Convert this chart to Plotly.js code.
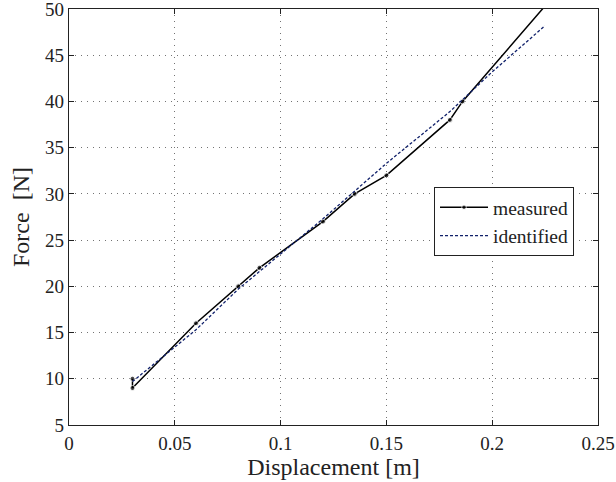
<!DOCTYPE html>
<html>
<head>
<meta charset="utf-8">
<script src="https://cdn.plot.ly/plotly-3.0.1.min.js"></script>
<style>html,body{margin:0;padding:0;background:#fff;}#chart{width:616px;height:482px;}</style>
</head>
<body>
<div id="chart"></div>
<script>
const measuredX = [0.03, 0.03, 0.06, 0.08, 0.09, 0.12, 0.135, 0.15, 0.18, 0.186, 0.2245];
const measuredY = [10, 9, 16, 20, 22, 27, 30, 32, 38, 40, 50.2];
const identifiedX = [0.03, 0.06, 0.08, 0.09, 0.12, 0.15, 0.18, 0.2, 0.225];
const identifiedY = [9.7, 15.3, 19.7, 21.6, 27.3, 33.3, 38.9, 43.2, 48.2];
const xTicks = [0, 0.05, 0.1, 0.15, 0.2, 0.25];
const xTickLabels = ['0', '0.05', '0.1', '0.15', '0.2', '0.25'];
const yTicks = [5, 10, 15, 20, 25, 30, 35, 40, 45, 50];

const serif = "'Liberation Serif', 'Times New Roman', serif";
const markerSizes = measuredX.map((_, i) => i === measuredX.length - 1 ? 0 : 5);

const traces = [
  {x: measuredX, y: measuredY, name: 'measured', type: 'scatter', mode: 'lines+markers',
   line: {color: '#000', width: 1.5}, marker: {color: '#000', size: markerSizes}, cliponaxis: true},
  {x: identifiedX, y: identifiedY, name: 'identified', type: 'scatter', mode: 'lines',
   line: {color: '#10206a', width: 1.3, dash: '3px,2px'}}
];

const axisCommon = {
  showline: true, mirror: 'ticks', linecolor: '#222', linewidth: 1.3,
  ticks: 'inside', ticklen: 5, tickcolor: '#222',
  showgrid: true, gridcolor: 'rgba(0,0,0,0.55)', griddash: '1px,5px', gridwidth: 1,
  zeroline: false, tickfont: {family: serif, size: 19, color: '#222'},
  ticklabeloverflow: 'allow'
};

const layout = {
  width: 616, height: 482,
  margin: {l: 69, r: 18, t: 9, b: 57},
  paper_bgcolor: '#fff', plot_bgcolor: '#fff',
  showlegend: true,
  legend: {x: 0.69, y: 0.572, xanchor: 'left', yanchor: 'top', bgcolor: '#fff',
           bordercolor: '#222', borderwidth: 1, font: {family: serif, size: 19.5, color: '#222'},
           tracegroupgap: 0, itemwidth: 48},
  xaxis: Object.assign({}, axisCommon, {range: [0, 0.25], tickvals: xTicks, ticktext: xTickLabels,
    ticklabelstandoff: 1,
    title: {text: 'Displacement [m]', font: {family: serif, size: 24, color: '#222'}, standoff: 0}}),
  yaxis: Object.assign({}, axisCommon, {range: [5, 50], tickvals: yTicks,
    title: {text: 'Force\u00a0\u00a0[N]', font: {family: serif, size: 24, color: '#222'}, standoff: 8}})
};

Plotly.newPlot('chart', traces, layout, {displayModeBar: false, staticPlot: true});
</script>
</body>
</html>
